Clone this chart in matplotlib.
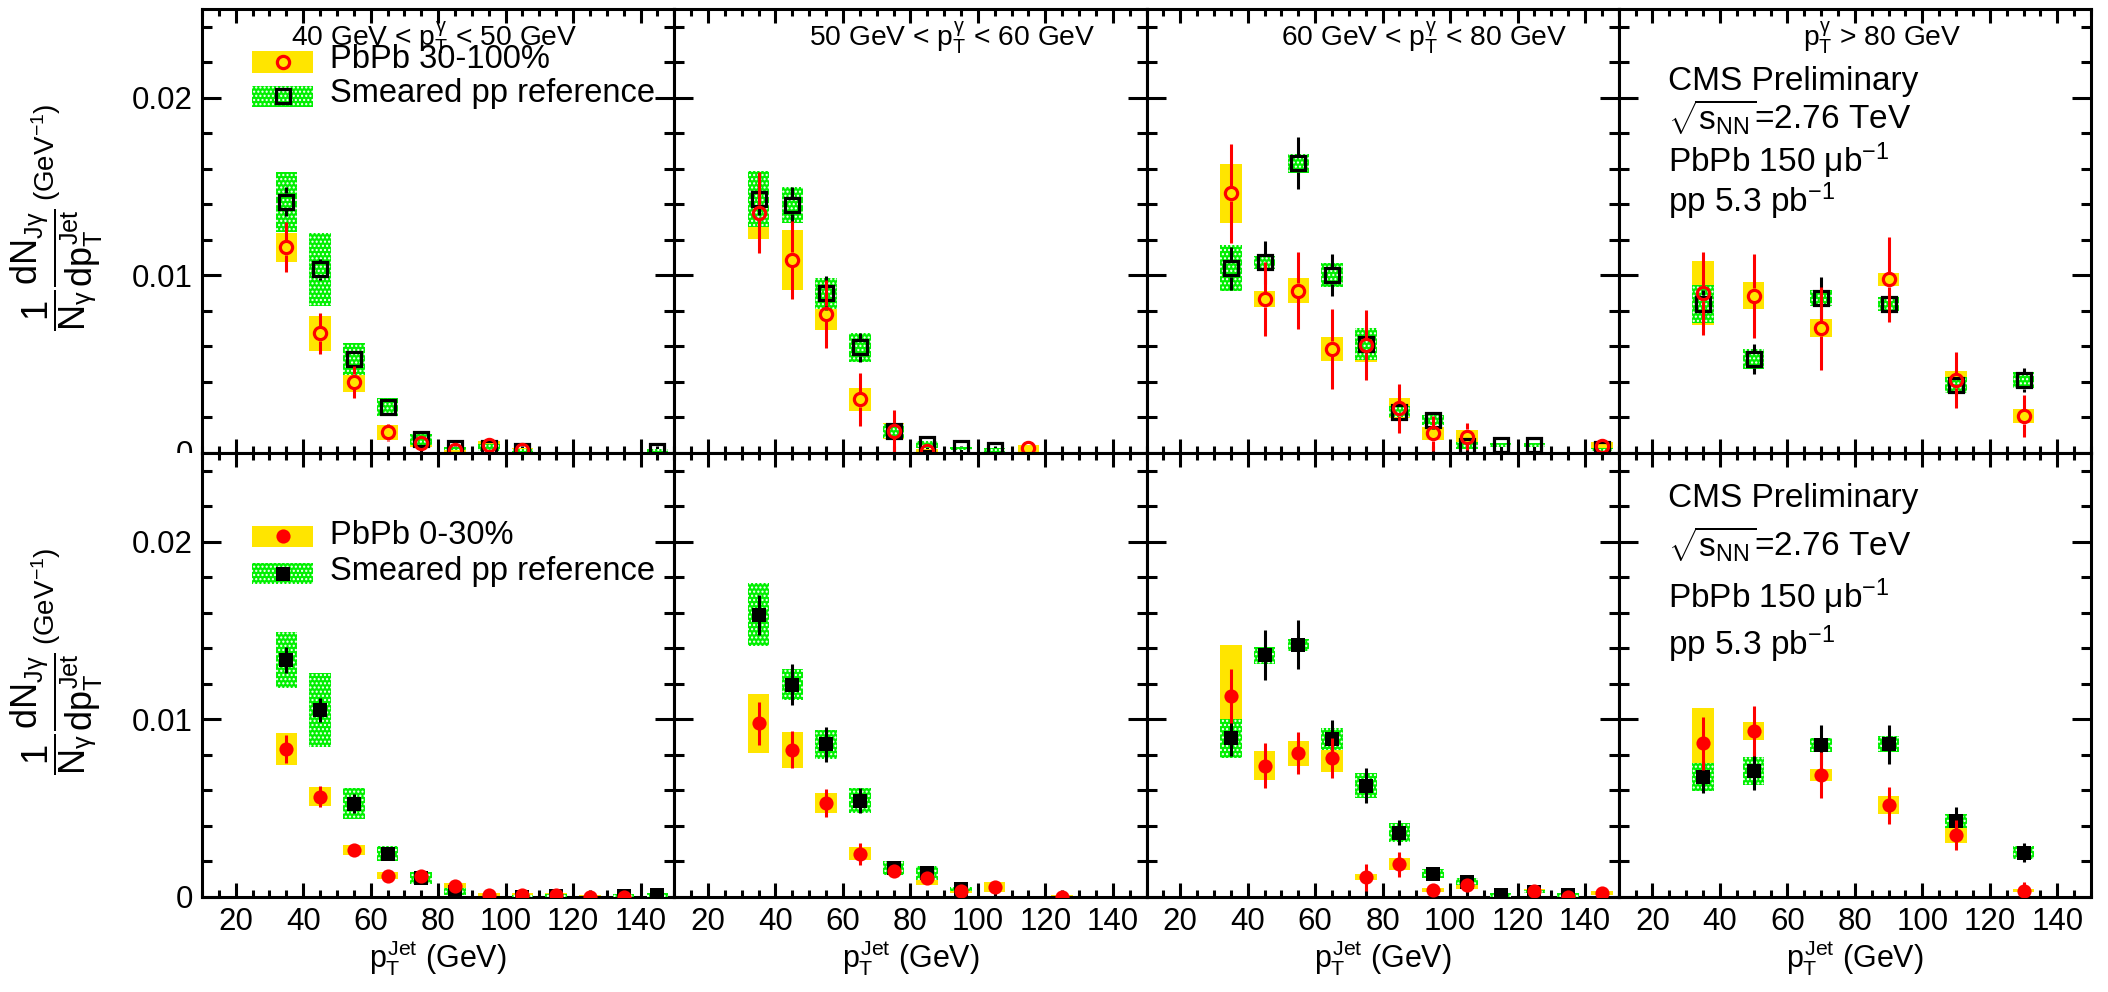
import numpy as np
import matplotlib
matplotlib.use('Agg')
import matplotlib.pyplot as plt
from matplotlib.patches import Rectangle
from matplotlib.ticker import MultipleLocator
from matplotlib.transforms import Bbox, TransformedBbox

# fonts: Helvetica-like, math also upright
plt.rcParams['font.family'] = ['Liberation Sans', 'DejaVu Sans']
plt.rcParams['mathtext.fontset'] = 'custom'
plt.rcParams['mathtext.rm'] = 'Liberation Sans'
plt.rcParams['mathtext.it'] = 'Liberation Sans'
plt.rcParams['mathtext.bf'] = 'Liberation Sans:bold'
plt.rcParams['hatch.color'] = 'white'
plt.rcParams['hatch.linewidth'] = 1.0

nan = np.nan

# ---- data ----
jet_bins = [35, 45, 55, 65, 75, 85, 95, 105, 115, 125, 135, 145]
jet_bins_hi = [35, 50, 70, 90, 110, 130]
photon_bins = [r'40 GeV < $p_{T}^{\gamma}$ < 50 GeV',
               r'50 GeV < $p_{T}^{\gamma}$ < 60 GeV',
               r'60 GeV < $p_{T}^{\gamma}$ < 80 GeV',
               r'$p_{T}^{\gamma}$ > 80 GeV']
title_x = [36.4, 50, 50, 64.6]

# PbPb 30-100%
peri_pbpb = [
    [0.01158, 0.00674, 0.00402, 0.00116, 0.00055, 0.00015, 0.00045, 0.00017, nan, nan, nan, nan],
    [0.01353, 0.01087, 0.00783, 0.00302, 0.00124, 0.00012, nan, nan, 0.00026, nan, nan, nan],
    [0.01462, 0.00867, 0.00914, 0.00586, 0.00608, 0.00252, 0.00111, 0.00092, nan, nan, nan, 0.0004],
    [0.00899, 0.00886, 0.00702, 0.00978, 0.00411, 0.00208]]
peri_pbpb_stat = [
    [0.0014, 0.00115, 0.0009, 0.0005, 0.0003, 0.0002, 0.0002, 0.0001, nan, nan, nan, nan],
    [0.00227, 0.0022, 0.0019, 0.0015, 0.0012, 0.0003, nan, nan, 0.0002, nan, nan, nan],
    [0.0028, 0.0021, 0.00216, 0.00225, 0.00197, 0.00138, 0.001, 0.00075, nan, nan, nan, 0.0003],
    [0.00233, 0.00236, 0.00232, 0.0024, 0.00157, 0.0012]]
peri_pbpb_sys = [
    [0.0008, 0.001, 0.0006, 0.0004, 0.0002, 0.0001, 0.0002, 0.0001, nan, nan, nan, nan],
    [0.0015, 0.0017, 0.0009, 0.00063, 0.00045, 0.0001, nan, nan, 0.0002, nan, nan, nan],
    [0.00167, 0.00045, 0.0007, 0.00066, 0.00097, 0.00055, 0.00036, 0.00036, nan, nan, nan, 0.0002],
    [0.0018, 0.00078, 0.0005, 0.00035, 0.0005, 0.00038]]
# smeared pp (for 30-100%)
peri_pp = [
    [0.01415, 0.01034, 0.00529, 0.00257, 0.00077, 0.00026, 0.0003, 0.00013, nan, nan, nan, 0.00013],
    [0.0143, 0.01396, 0.00899, 0.00595, 0.00126, 0.0005, 0.00026, 0.00017, nan, nan, nan, nan],
    [0.0104, 0.01074, 0.01631, 0.01002, 0.00614, 0.00233, 0.00186, 0.0004, 0.00045, 0.00045, nan, 0.0002],
    [0.00839, 0.00529, 0.00871, 0.00839, 0.00383, 0.00411]]
peri_pp_stat = [
    [0.0008, 0.0006, 0.0003, 0.0002, 0.0001, 0.0001, 0.0001, 0.0001, nan, nan, nan, 0.0001],
    [0.0009, 0.001, 0.00095, 0.0008, 0.0002, 0.0001, 0.0001, 0.0001, nan, nan, nan, nan],
    [0.00122, 0.0012, 0.00146, 0.0012, 0.0005, 0.0003, 0.0005, 0.0002, 0.0001, 0.0001, nan, 0.0001],
    [0.0008, 0.00085, 0.00118, 0.0005, 0.0005, 0.00066]]
peri_pp_sys = [
    [0.0017, 0.00206, 0.00092, 0.0005, 0.0003, 0.0001, 0.0002, 0.0001, nan, nan, nan, 0.0001],
    [0.0016, 0.001, 0.00086, 0.0008, 0.0004, 0.0002, 0.0001, 0.0001, nan, nan, nan, nan],
    [0.0013, 0.00036, 0.00054, 0.0007, 0.0009, 0.0003, 0.0003, 0.0002, 0.0001, 0.0001, nan, 0.0001],
    [0.00108, 0.00056, 0.00045, 0.0004, 0.00047, 0.00047]]

# PbPb 0-30%
cent_pbpb = [
    [0.00833, 0.00565, 0.00264, 0.00121, 0.00119, 0.0006, 0.00012, 0.0001, 0.00012, 0.00002, 0.00002, nan],
    [0.00978, 0.00829, 0.00528, 0.00244, 0.00145, 0.00105, 0.00032, 0.00056, nan, 0.00002, nan, nan],
    [0.01131, 0.0074, 0.0081, 0.00784, 0.00111, 0.00185, 0.0004, 0.00065, nan, 0.00036, 0.00002, 0.00022],
    [0.00865, 0.00933, 0.00686, 0.00516, 0.00349, 0.00036]]
cent_pbpb_stat = [
    [0.0008, 0.0006, 0.0003, 0.0002, 0.0002, 0.0002, 0.0001, 0.0001, 0.0001, 0.0001, 0.0001, nan],
    [0.00122, 0.00103, 0.00078, 0.00062, 0.0003, 0.0003, 0.0001, 0.0001, nan, 0.0001, nan, nan],
    [0.00154, 0.00125, 0.0012, 0.00112, 0.00075, 0.0007, 0.0001, 0.0002, nan, 0.0001, 0.0001, 0.0001],
    [0.00149, 0.0014, 0.0013, 0.00106, 0.00086, 0.0005]]
cent_pbpb_sys = [
    [0.00092, 0.00055, 0.0003, 0.00017, 0.0002, 0.0002, 0.0001, 0.0001, 0.0001, 0.0001, 0.0001, nan],
    [0.00167, 0.001, 0.00057, 0.00037, 0.0002, 0.0004, 0.0001, 0.0003, nan, 0.0001, nan, nan],
    [0.0029, 0.00083, 0.0007, 0.0008, 0.00017, 0.00035, 0.0001, 0.0002, nan, 0.0001, 0.0001, 0.0001],
    [0.00202, 0.0005, 0.00035, 0.0005, 0.00045, 0.0001]]
# smeared pp (for 0-30%)
cent_pp = [
    [0.01335, 0.01053, 0.00526, 0.00244, 0.00105, 0.0003, nan, 0.00002, 0.00005, nan, 0.00005, 0.0001],
    [0.01589, 0.01196, 0.00859, 0.00542, 0.00165, 0.00135, 0.00046, nan, nan, nan, nan, nan],
    [0.00893, 0.01361, 0.01419, 0.00889, 0.00627, 0.00363, 0.00131, 0.00085, 0.0001, 0.0003, 0.00012, nan],
    [0.00675, 0.0071, 0.00855, 0.00859, 0.00429, 0.0025]]
cent_pp_stat = [
    [0.00075, 0.00065, 0.00055, 0.0003, 0.0002, 0.0001, nan, 0.0001, 0.0001, nan, 0.0001, 0.0001],
    [0.00114, 0.00117, 0.001, 0.0007, 0.0002, 0.0002, 0.0001, nan, nan, nan, nan, nan],
    [0.001, 0.0014, 0.00138, 0.0011, 0.001, 0.0007, 0.0002, 0.0002, 0.0001, 0.0001, 0.0001, nan],
    [0.0009, 0.00109, 0.00114, 0.0011, 0.0008, 0.00055]]
cent_pp_sys = [
    [0.00157, 0.00208, 0.00086, 0.00043, 0.00034, 0.0002, nan, 0.0001, 0.0001, nan, 0.0001, 0.0001],
    [0.00178, 0.00087, 0.00084, 0.0007, 0.0004, 0.0004, 0.0001, nan, nan, nan, nan, nan],
    [0.0011, 0.00047, 0.00036, 0.0006, 0.0007, 0.00055, 0.00025, 0.0002, 0.0001, 0.0001, 0.0001, nan],
    [0.00077, 0.0008, 0.0004, 0.00045, 0.00038, 0.00035]]

YELLOW = '#ffe500'
GREEN = '#00f000'
BOX_HW = 3.2        # half width of systematic boxes (GeV)
YMAX = 0.025

fig = plt.figure(figsize=(21.08, 9.92), dpi=100)
FW, FH = 2108, 992
L, R = 202, 2091
W = (R - L) / 4
rows_px = [(9, 453), (453, 897)]


def boxes(ax, x, y, s, **kw):
    for xi, yi, si in zip(x, y, s):
        if np.isnan(yi):
            continue
        ax.add_patch(Rectangle((xi - BOX_HW, yi - si), 2 * BOX_HW, 2 * si, lw=0, **kw))


def errbars(ax, x, y, e, color, gap, z):
    # ROOT style: no error line inside open markers
    for xi, yi, ei in zip(x, y, e):
        if np.isnan(yi):
            continue
        if ei > gap:
            ax.vlines([xi, xi], [yi - ei, yi + gap], [yi - gap, yi + ei], colors=color, lw=2.2, zorder=z)


def draw_panel(ax, x, pb, pb_st, pb_sy, pp, pp_st, pp_sy, filled):
    x = np.asarray(x, float)
    pb, pb_st, pb_sy = (np.asarray(a, float) for a in (pb, pb_st, pb_sy))
    pp, pp_st, pp_sy = (np.asarray(a, float) for a in (pp, pp_st, pp_sy))
    per_px = YMAX / ax.bbox.height
    boxes(ax, x, pb, pb_sy, facecolor=YELLOW, zorder=2)
    boxes(ax, x, pp, pp_sy, facecolor=GREEN, hatch='....', zorder=3)
    if filled:
        errbars(ax, x, pp, pp_st, 'black', 0, 4)
        ax.plot(x, pp, ls='none', marker='s', ms=10.5, mfc='black', mec='black', mew=0, zorder=5)
        errbars(ax, x, pb, pb_st, 'red', 0, 6)
        ax.plot(x, pb, ls='none', marker='o', ms=10.2, mfc='red', mec='red', mew=0, zorder=7)
    else:
        errbars(ax, x, pp, pp_st, 'black', 8.5 * per_px, 4)
        ax.plot(x, pp, ls='none', marker='s', ms=10, mfc='none', mec='black', mew=2.3, zorder=5)
        errbars(ax, x, pb, pb_st, 'red', 7.5 * per_px, 6)
        ax.plot(x, pb, ls='none', marker='o', ms=8.8, mfc='none', mec='red', mew=2.3, zorder=7)


def legend(ax, ys, ybase, labels, filled):
    hw = 0.129
    ax.add_patch(Rectangle((0.106, ys[0] - 0.024), hw, 0.048, transform=ax.transAxes,
                           facecolor=YELLOW, lw=0, zorder=8))
    ax.add_patch(Rectangle((0.106, ys[1] - 0.024), hw, 0.048, transform=ax.transAxes,
                           facecolor=GREEN, hatch='....', lw=0, zorder=8))
    if filled:
        ax.plot([0.1705], [ys[0]], transform=ax.transAxes, marker='o', ms=10.2, mfc='red', mew=0, zorder=9)
        ax.plot([0.1705], [ys[1]], transform=ax.transAxes, marker='s', ms=10.5, mfc='black', mew=0, zorder=9)
    else:
        ax.plot([0.1705], [ys[0]], transform=ax.transAxes, marker='o', ms=8.8, mfc='none', mec='red', mew=2.3, zorder=9)
        ax.plot([0.1705], [ys[1]], transform=ax.transAxes, marker='s', ms=10, mfc='none', mec='black', mew=2.3, zorder=9)
    for yb, lab in zip(ybase, labels):
        ax.text(0.27, yb, lab, transform=ax.transAxes, va='baseline', ha='left', fontsize=23.5, zorder=9)


def cms_text(ax, ybase):
    lines = ['CMS Preliminary', r'$\sqrt{s_{NN}}$=2.76 TeV',
             r'PbPb 150 μb$^{-1}$', r'pp 5.3 pb$^{-1}$']
    for yb, t in zip(ybase, lines):
        ax.text(0.104, yb, t, transform=ax.transAxes, va='baseline', ha='left', fontsize=24)


ylab_frac = r'$\dfrac{1}{N_{\gamma}}\dfrac{dN_{J\gamma}}{dp_{T}^{Jet}}$'
ylab_unit = r'(GeV$^{-1}$)'

for r in range(2):
    top, bot = rows_px[r]
    for c in range(4):
        ax = fig.add_axes([(L + c * W) / FW, (FH - bot) / FH, W / FW, (bot - top) / FH])
        ax.set_xlim(10, 150)
        ax.set_ylim(0, YMAX)
        x = jet_bins if c < 3 else jet_bins_hi
        if r == 0:
            draw_panel(ax, x, peri_pbpb[c], peri_pbpb_stat[c], peri_pbpb_sys[c],
                       peri_pp[c], peri_pp_stat[c], peri_pp_sys[c], filled=False)
            ax.text(title_x[c], 0.0229, photon_bins[c], fontsize=20.3, va='baseline', ha='left')
        else:
            draw_panel(ax, x, cent_pbpb[c], cent_pbpb_stat[c], cent_pbpb_sys[c],
                       cent_pp[c], cent_pp_stat[c], cent_pp_sys[c], filled=True)

        ax.set_xticks(range(20, 141, 20))
        ax.xaxis.set_minor_locator(MultipleLocator(5))
        ax.set_yticks([0, 0.01, 0.02])
        ax.yaxis.set_minor_locator(MultipleLocator(0.002))
        ax.tick_params(which='both', direction='in', top=True, right=True, width=2.2)
        ax.tick_params(axis='x', which='major', length=10, pad=7, labelsize=22.5)
        ax.tick_params(axis='x', which='minor', length=5)
        ax.tick_params(axis='y', which='major', length=14, pad=6.5, labelsize=22.5)
        ax.tick_params(axis='y', which='minor', length=7)
        for sp in ax.spines.values():
            sp.set_linewidth(2.2)

        if r == 0:
            ax.tick_params(axis='x', labelbottom=False)
        else:
            ax.set_xlabel(r'$p_{T}^{Jet}$ (GeV)', fontsize=22, labelpad=1)
        if c == 0:
            ax.set_yticklabels(['' if r == 0 else '0', '0.01', '0.02'])
        else:
            ax.tick_params(axis='y', labelleft=False)

        if r == 0 and c == 0:
            legend(ax, [0.8806, 0.803], [0.867, 0.7905], ['PbPb 30-100%', 'Smeared pp reference'], False)
        if r == 1 and c == 0:
            legend(ax, [0.812, 0.7286], [0.796, 0.713], ['PbPb 0-30%', 'Smeared pp reference'], True)
        if c == 3:
            cms_text(ax, [0.8176, 0.730, 0.633, 0.543] if r == 0 else [0.879, 0.768, 0.651, 0.545])

    # y title: big fraction plus the unit, rotated
    fig.text(57 / FW, (FH - (top + 270 - 9)) / FH, ylab_frac,
             rotation=90, ha='center', va='center', fontsize=26)
    fig.text(46 / FW, (FH - (top + 152 - 9)) / FH, ylab_unit,
             rotation=90, ha='center', va='center', fontsize=20)

# the "0" of the upper row, cut by the lower frame as in the original
zero = fig.text(193 / FW, (FH - 455) / FH, '0', ha='right', va='center', fontsize=22.5)
zero.set_clip_box(TransformedBbox(Bbox.from_extents(0, (FH - 453) / FH, 1, 1), fig.transFigure))

fig.savefig('out.png', dpi=100)
